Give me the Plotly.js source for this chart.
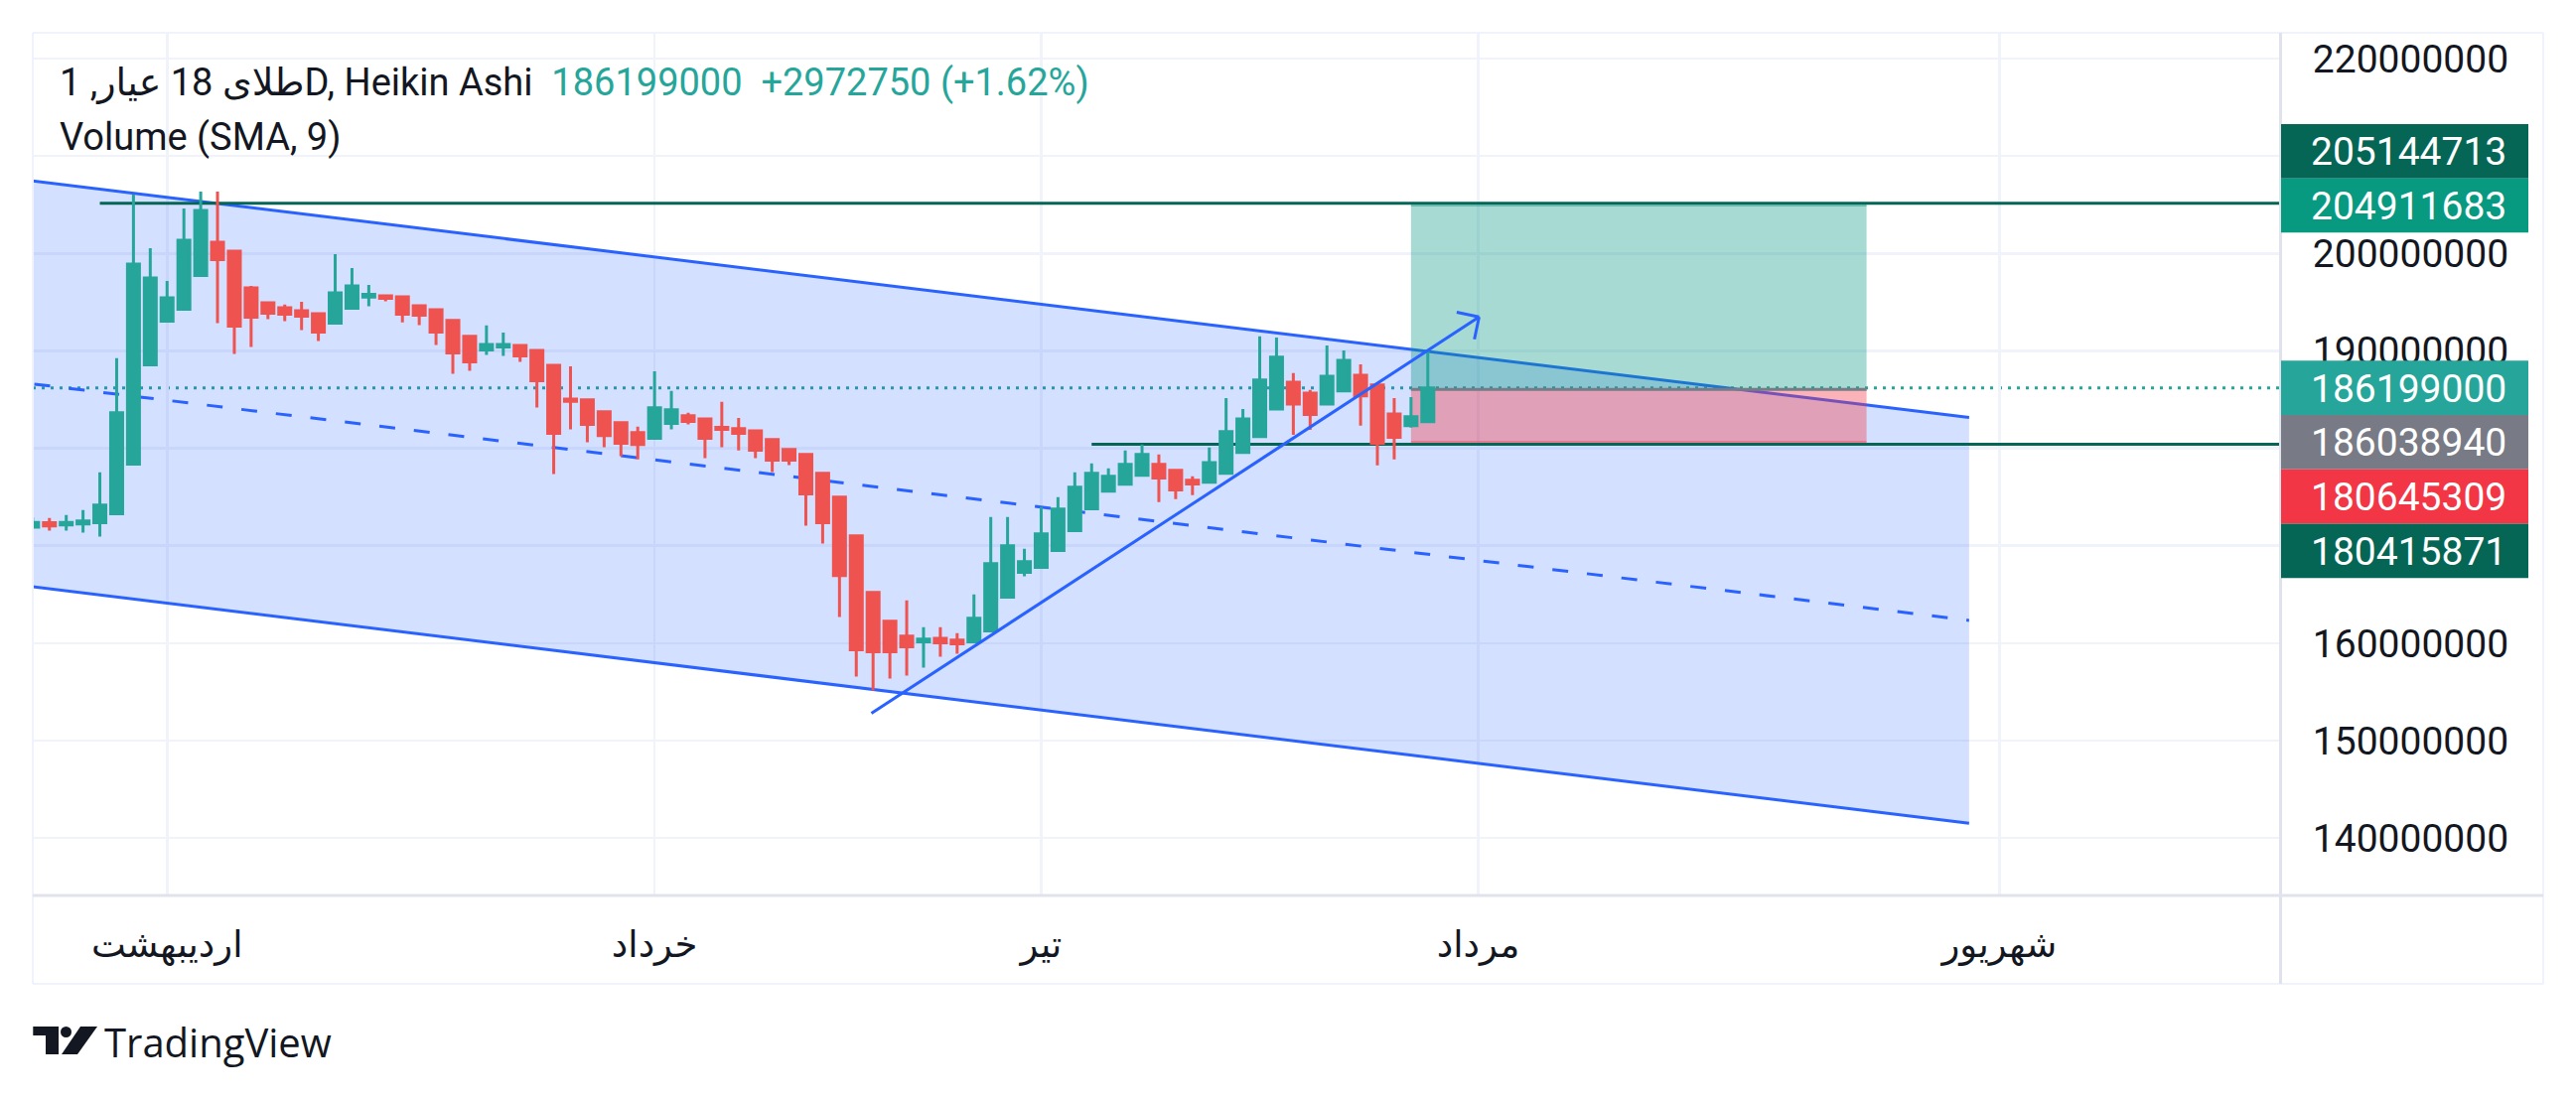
<!DOCTYPE html>
<html><head><meta charset="utf-8">
<script src="https://cdn.plot.ly/plotly-3.0.1.min.js"></script>
<style>html,body{margin:0;padding:0;background:#fff;overflow:hidden}#chart{width:2594px;height:1106px}</style>
</head><body><div id="chart"></div>
<script>
// ---------------- data ----------------
const barIndex = [-8,-7,-6,-5,-4,-3,-2,-1,0,1,2,3,4,5,6,7,8,9,10,11,12,13,14,15,16,17,18,19,20,21,22,23,24,25,26,27,28,29,30,31,32,33,34,35,36,37,38,39,40,41,42,43,44,45,46,47,48,49,50,51,52,53,54,55,56,57,58,59,60,61,62,63,64,65,66,67,68,69,70,71,72,73,74,75];
const opens = [171900000,172370000,172130000,172230000,172370000,173280000,178370000,188560000,193040000,194260000,197720000,201150000,200230000,196470000,194940000,194430000,194120000,193820000,192830000,194360000,195520000,195650000,195550000,194630000,194220000,193110000,191480000,190090000,190390000,190560000,190050000,188520000,185060000,184960000,183740000,182620000,181600000,181020000,182550000,183330000,183020000,182140000,182010000,181800000,180890000,179870000,179360000,177420000,174980000,171010000,165200000,162250000,160720000,160150000,160490000,160320000,160150000,161270000,164730000,167280000,167780000,169500000,171540000,173790000,175610000,176300000,177220000,178340000,177730000,176710000,176510000,177420000,179560000,181190000,184040000,186790000,185670000,184550000,185880000,187500000,186490000,183530000,182310000,182720000];
const highs = [172900000,172840000,173150000,173660000,177530000,189240000,206070000,200540000,197180000,204610000,206340000,206340000,200230000,196670000,194940000,194740000,195040000,193820000,199930000,198500000,196770000,195790000,195550000,194730000,194220000,193110000,191480000,192600000,191880000,190560000,190050000,188520000,188420000,184960000,183740000,182620000,182210000,187910000,185880000,183640000,183020000,184760000,183120000,181800000,180890000,179870000,179360000,177420000,174980000,171010000,165200000,162250000,164390000,161640000,161640000,161030000,165000000,172940000,172940000,169680000,173960000,174980000,177530000,178440000,177930000,179770000,180380000,179360000,177730000,177120000,180070000,185160000,184040000,191480000,191370000,187710000,185980000,190560000,190050000,188620000,186490000,185160000,185260000,190050000];
const lows = [171800000,171550000,171550000,171350000,170940000,173280000,178370000,188560000,193040000,194260000,197720000,192830000,189680000,190390000,193240000,193040000,192120000,191000000,192830000,194360000,194570000,195080000,192920000,192630000,190600000,187640000,187950000,189580000,189470000,188860000,184180000,177360000,181940000,180610000,180110000,179190000,178850000,181020000,181940000,182450000,178990000,180110000,179770000,178990000,177560000,178270000,172060000,170230000,162690000,156580000,155160000,156380000,156680000,157500000,158620000,158920000,160150000,161270000,164730000,166870000,167780000,169500000,171540000,173790000,175610000,176300000,177220000,174470000,174780000,175180000,176510000,177420000,179560000,181190000,184040000,181390000,181900000,184480000,185880000,182310000,178240000,178850000,182110000,182720000];
const closes = [172400000,172030000,172400000,172540000,174160000,183640000,198910000,197480000,195450000,201350000,204410000,199350000,192530000,193450000,193850000,193750000,193550000,191920000,195960000,196670000,195790000,195380000,193750000,193650000,191920000,189780000,188860000,190660000,190660000,189470000,186930000,181530000,184820000,182450000,181300000,180510000,180380000,184150000,183940000,182750000,181020000,181940000,181530000,179800000,178780000,178780000,175320000,172370000,166940000,159330000,159130000,159130000,159640000,160420000,160050000,159940000,162560000,168160000,169990000,168360000,171210000,173760000,176000000,177420000,177120000,178340000,179360000,176950000,175730000,176340000,178540000,181700000,183020000,187000000,189340000,184550000,183470000,187400000,189030000,185370000,180510000,181120000,183230000,186199000];

const monthTicks = [0, 29, 52, 78, 109];
const monthLabels = ['اردیبهشت', 'خرداد', 'تیر', 'مرداد', 'شهریور'];
const priceTicks = [140000000,150000000,160000000,170000000,180000000,190000000,200000000,210000000,220000000];
// labels at 170M, 180M and 210M sit under the price tags in the reference
const priceTickLabels = ['140000000','150000000','160000000','','','190000000','200000000','','220000000'];

const symbolTitle = 'طلای 18 عیار, 1D, Heikin Ashi';
const lastPrice = 186199000;
const changeText = '+2972750 (+1.62%)';
const indicatorTitle = 'Volume (SMA, 9)';

// drawings (anchors in bar index / price)
const channelBars = [-12, 107.2];
const channelTop = [208270000, 183160000];
const channelMid = [187450000, 162340000];
const channelBottom = [166630000, 141520000];
const arrowBars = [41.9, 78.05];
const arrowPrices = [152800000, 193480000];
const rayPrices = [205144713, 180415871];
const rayStartBars = [-4, 55];
const longBars = [74, 101.1];
const longTarget = 204911683, longEntry = 186038940, longStop = 180645309;

const priceTags = [205144713, 204911683, 186199000, 186038940, 180645309, 180415871];
const priceTagColors = ['#056656', '#089981', '#26a69a', '#787b86', '#f23645', '#056656'];
const priceTagAnchor = [1, 1, 2, 2, 2, 2];
const priceTagStep = [-1, 0, 0, 1, 2, 3];

// ---------------- layout geometry ----------------
const W = 2594, H = 1106, L = 33, T = 33, PW = 2263, PH = 869;
const xRange = [-7.99, 125.7], yRange = [134110000, 222640000];
const FONT = "Roboto, 'DejaVu Sans', sans-serif";
const DARK = '#131722';
const px = X => (X - L) / PW;
const py = Y => (T + PH - Y) / PH;
const valY = v => T + (yRange[1] - v) / (yRange[1] - yRange[0]) * PH;
const pxPerK = PW / (xRange[1] - xRange[0]);
const pxPerP = PH / (yRange[1] - yRange[0]);

const shapes = [];
const blue = '#2962ff';
// channel fill + lines
shapes.push({type:'path', layer:'between', xref:'x', yref:'y',
  path:`M ${channelBars[0]},${channelTop[0]} L ${channelBars[1]},${channelTop[1]} L ${channelBars[1]},${channelBottom[1]} L ${channelBars[0]},${channelBottom[0]} Z`,
  fillcolor:'rgba(41,98,255,0.2)', line:{width:0}});
[[channelTop,'solid'],[channelBottom,'solid'],[channelMid,'16px,19px']].forEach(([p,d])=>{
  shapes.push({type:'line', layer:'between', xref:'x', yref:'y', x0:channelBars[0], x1:channelBars[1], y0:p[0], y1:p[1], line:{color:blue, width:3, dash:d}});
});
// long position
shapes.push({type:'rect', layer:'between', xref:'x', yref:'y', x0:longBars[0], x1:longBars[1], y0:longEntry, y1:longTarget, fillcolor:'rgba(8,153,129,0.36)', line:{width:0}});
shapes.push({type:'rect', layer:'between', xref:'x', yref:'y', x0:longBars[0], x1:longBars[1], y0:longStop, y1:longEntry, fillcolor:'rgba(242,54,69,0.38)', line:{width:0}});
shapes.push({type:'line', layer:'between', xref:'x', yref:'y', x0:longBars[0], x1:longBars[1], y0:longTarget, y1:longTarget, line:{color:'rgba(8,153,129,0.45)', width:2}});
shapes.push({type:'line', layer:'between', xref:'x', yref:'y', x0:longBars[0], x1:longBars[1], y0:longStop, y1:longStop, line:{color:'rgba(242,54,69,0.5)', width:2}});
shapes.push({type:'line', layer:'between', xref:'x', yref:'y', x0:longBars[0], x1:longBars[1], y0:longEntry, y1:longEntry, line:{color:'#787b86', width:3}});
// horizontal rays
rayPrices.forEach((p,i)=>shapes.push({type:'line', layer:'between', xref:'x', yref:'y', x0:rayStartBars[i], x1:xRange[1], y0:p, y1:p, line:{color:'#056656', width:3}}));
// last price dotted line
shapes.push({type:'line', layer:'between', xref:'paper', yref:'y', x0:0, x1:1, y0:lastPrice, y1:lastPrice, line:{color:'#26a69a', width:3, dash:'3px,6px'}});
// arrow
shapes.push({type:'line', layer:'above', xref:'x', yref:'y', x0:arrowBars[0], x1:arrowBars[1], y0:arrowPrices[0], y1:arrowPrices[1], line:{color:blue, width:3}});
(function(){
  let vx = (arrowBars[0]-arrowBars[1])*pxPerK, vy = (arrowPrices[0]-arrowPrices[1])*pxPerP;
  const n = Math.hypot(vx,vy); vx/=n; vy/=n;
  [Math.PI/4, -Math.PI/4].forEach(a=>{
    const rx = vx*Math.cos(a)-vy*Math.sin(a), ry = vx*Math.sin(a)+vy*Math.cos(a);
    shapes.push({type:'line', layer:'above', xref:'x', yref:'y', x0:arrowBars[1], y0:arrowPrices[1],
      x1:arrowBars[1]+rx*23/pxPerK, y1:arrowPrices[1]+ry*23/pxPerP, line:{color:blue, width:3}});
  });
})();
// frame
const frame = (x0,y0,x1,y1,c,w)=>shapes.push({type:'line', layer:'above', xref:'paper', yref:'paper', x0:px(x0), y0:py(y0), x1:px(x1), y1:py(y1), line:{color:c, width:w}});
frame(33,33,2561,33,'#f0f3fa',2);
frame(33,33,33,991,'#f0f3fa',2);
frame(2561,33,2561,991,'#f0f3fa',2);
frame(33,991,2561,991,'#f0f3fa',2);
frame(33,902,2561,902,'#e0e3eb',3);
frame(2296.5,33,2296.5,991,'#e0e3eb',3);

const annotations = [];
// price tags
const tagH = 54.7;
priceTags.forEach((v,i)=>{
  const cy = valY(priceTags[priceTagAnchor[i]]) + priceTagStep[i]*tagH;
  shapes.push({type:'rect', layer:'above', xref:'paper', yref:'paper', x0:px(2297), x1:px(2546), y0:py(cy-tagH/2), y1:py(cy+tagH/2), fillcolor:priceTagColors[i], line:{width:0}});
  annotations.push({xref:'paper', yref:'paper', x:px(2526), y:py(cy+1), xanchor:'right', yanchor:'middle', showarrow:false, text:String(v), font:{family:FONT, size:39, color:'#ffffff'}});
});
// titles
annotations.push({xref:'paper', yref:'paper', x:px(58), y:py(83), xanchor:'left', yanchor:'middle', showarrow:false,
  text: symbolTitle + '\u00a0\u00a0<span style="color:#26a69a">' + lastPrice + '\u00a0\u00a0' + changeText + '</span>',
  font:{family:FONT, size:38, color:DARK}});
annotations.push({xref:'paper', yref:'paper', x:px(58), y:py(138), xanchor:'left', yanchor:'middle', showarrow:false,
  text: indicatorTitle, font:{family:FONT, size:38, color:DARK}});
// TradingView logo
annotations.push({xref:'paper', yref:'paper', x:px(103), y:py(1049), xanchor:'left', yanchor:'middle', showarrow:false,
  text:'TradingView', font:{family:"'Open Sans', Roboto, sans-serif", size:40, color:DARK}});
const pPath = pts => 'M ' + pts.map(p=>px(p[0])+','+py(p[1])).join(' L ') + ' Z';
shapes.push({type:'path', layer:'above', xref:'paper', yref:'paper', path:pPath([[33.3,1034],[59,1034],[59,1062],[46,1062],[46,1043],[33.3,1043]]), fillcolor:DARK, line:{width:0}});
shapes.push({type:'circle', layer:'above', xref:'paper', yref:'paper', x0:px(61), x1:px(72), y0:py(1034), y1:py(1045), fillcolor:DARK, line:{width:0}});
shapes.push({type:'path', layer:'above', xref:'paper', yref:'paper', path:pPath([[81,1034],[98,1034],[78,1062],[62,1062]]), fillcolor:DARK, line:{width:0}});

const trace = {type:'candlestick', x:barIndex, open:opens, high:highs, low:lows, close:closes,
  increasing:{line:{color:'#26a69a', width:3}, fillcolor:'#26a69a'},
  decreasing:{line:{color:'#ef5350', width:3}, fillcolor:'#ef5350'},
  whiskerwidth:0, hoverinfo:'skip', showlegend:false};

const layout = {
  width:W, height:H, margin:{l:L, r:W-L-PW, t:T, b:H-T-PH, pad:0},
  paper_bgcolor:'#ffffff', plot_bgcolor:'#ffffff', showlegend:false,
  boxgap:0.29, boxgroupgap:0, hovermode:false,
  font:{family:FONT, color:DARK},
  xaxis:{range:xRange, rangeslider:{visible:false}, tickmode:'array', tickvals:monthTicks, ticktext:monthLabels,
    showgrid:true, gridcolor:'#f0f3fa', gridwidth:2.6, zeroline:false, showline:false,
    ticks:'outside', ticklen:17, tickcolor:'rgba(0,0,0,0)', tickfont:{family:FONT, size:37, color:DARK}, fixedrange:true},
  yaxis:{range:yRange, side:'right', tickmode:'array', tickvals:priceTicks, ticktext:priceTickLabels,
    showgrid:true, gridcolor:'#f0f3fa', gridwidth:2.6, zeroline:false, showline:false,
    ticks:'outside', ticklen:24, tickcolor:'rgba(0,0,0,0)', tickfont:{family:FONT, size:39, color:DARK}, fixedrange:true},
  shapes:shapes, annotations:annotations
};
Plotly.newPlot('chart', [trace], layout, {displayModeBar:false, staticPlot:true});
</script></body></html>
